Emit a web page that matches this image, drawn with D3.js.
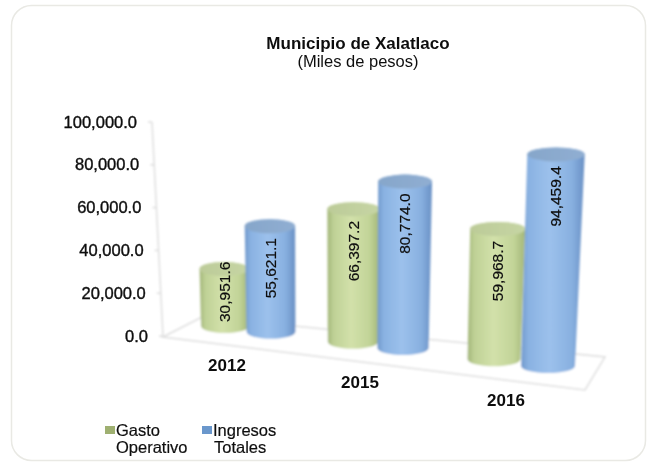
<!DOCTYPE html>
<html>
<head>
<meta charset="utf-8">
<script src="https://cdn.jsdelivr.net/npm/d3@7"></script>
<style>
  html, body { margin: 0; padding: 0; background: #fff; }
  text { font-family: "Liberation Sans", Arial, sans-serif; fill: #111; }
</style>
</head>
<body>
<script>
// Datos
const categories = ["2012", "2015", "2016"];
const gastoOperativo = [30951.6, 66397.2, 59968.7];
const ingresosTotales = [55621.1, 80774.0, 94459.4];
const yTicks = [0, 20000, 40000, 60000, 80000, 100000];
const titleLines = ["Municipio de Xalatlaco", "(Miles de pesos)"];
const seriesNames = [["Gasto", "Operativo"], ["Ingresos", "Totales"]];

const width = 657, height = 462;
const fmt = d3.format(",.1f");

const svg = d3.select("body").append("svg")
    .attr("width", width)
    .attr("height", height)
    .style("display", "block");

const defs = svg.append("defs");

// Suavizado, la imagen original es una captura borrosa
defs.append("filter").attr("id", "soft")
  .append("feGaussianBlur").attr("stdDeviation", 0.9);
defs.append("filter").attr("id", "softText")
  .append("feGaussianBlur").attr("stdDeviation", 0.35);

function addGradient(id, stops) {
  const g = defs.append("linearGradient").attr("id", id);
  stops.forEach(s => g.append("stop").attr("offset", s[0]).attr("stop-color", s[1]));
}
addGradient("bodyGreen", [[0, "#a3b67a"], [0.12, "#bfd196"], [0.45, "#d2e1aa"], [0.8, "#c2d498"], [1, "#a3b678"]]);
addGradient("bodyBlue", [[0, "#7199cc"], [0.12, "#8ab2e2"], [0.45, "#9cc1ec"], [0.8, "#88b0e0"], [1, "#6990c4"]]);
addGradient("topGreen", [[0, "#bccb98"], [1, "#c6d5a4"]]);
addGradient("topBlue", [[0, "#86a6ca"], [1, "#90aed2"]]);

const seriesStyle = [
  { body: "url(#bodyGreen)", top: "url(#topGreen)", swatch: "#9fb071" },
  { body: "url(#bodyBlue)", top: "url(#topBlue)", swatch: "#6b97cc" }
];

// Marco redondeado
svg.append("rect")
    .attr("x", 11.5).attr("y", 5.5)
    .attr("width", 634).attr("height", 455)
    .attr("rx", 20)
    .attr("fill", "#fff")
    .attr("stroke", "#e9e9e4")
    .attr("stroke-width", 1.5);

// Escalas
const y = d3.scaleLinear().domain([0, 100000]).range([336, 122]);
const axisX = d3.scaleLinear().domain([336, 122]).range([163, 152]);
const centerX = d3.scaleOrdinal(categories, [248, 378, 521]);
const labelX = d3.scaleOrdinal(categories, [227, 360, 506]);
const floorY = d3.scaleLinear().domain([225, 548]).range([326, 366]);
const radius = d3.scaleLinear().domain([225, 548]).range([24, 27]);
const pxPerValue = d3.scaleLinear().domain([225, 548]).range([0.00184, 0.00224]);

// Piso y eje vertical
const chart = svg.append("g").attr("filter", "url(#soft)");
const floor = [[163, 337], [202, 317], [605, 357], [585, 390]];
chart.append("path")
    .attr("d", d3.line()(floor) + "Z")
    .attr("fill", "#fff")
    .attr("stroke", "#dedede")
    .attr("stroke-width", 1.5);
chart.append("line")
    .attr("x1", axisX(y(0))).attr("y1", y(0))
    .attr("x2", axisX(y(100000))).attr("y2", y(100000))
    .attr("stroke", "#dedede")
    .attr("stroke-width", 1.5);
chart.selectAll(".tick").data(yTicks).join("line")
    .attr("class", "tick")
    .attr("x1", d => axisX(y(d)) - 4).attr("y1", d => y(d))
    .attr("x2", d => axisX(y(d))).attr("y2", d => y(d))
    .attr("stroke", "#dedede")
    .attr("stroke-width", 1.5);

// Cilindros
const bars = [];
categories.forEach((c, i) => {
  [gastoOperativo[i], ingresosTotales[i]].forEach((v, s) => {
    const cx = centerX(c) + (s === 0 ? -1 : 1) * (23 + i * 2);
    const h = pxPerValue(cx) * v;
    const lean = (cx - 330) * h * 0.000173;
    bars.push({
      value: v, series: s, cx: cx, base: floorY(cx), h: h, lean: lean,
      r: radius(cx), rTop: radius(cx) * (1 + h * 0.0003), ry: 7
    });
  });
});

bars.forEach(d => {
  const topY = d.base - d.h;
  const topX = d.cx + d.lean;
  chart.append("path")
      .attr("d", `M${topX - d.rTop},${topY}
        L${d.cx - d.r},${d.base}
        A${d.r},${d.ry} 0 0 0 ${d.cx + d.r},${d.base}
        L${topX + d.rTop},${topY}
        A${d.rTop},${d.ry} 0 0 0 ${topX - d.rTop},${topY}Z`)
      .attr("fill", seriesStyle[d.series].body);
  chart.append("ellipse")
      .attr("cx", topX).attr("cy", topY)
      .attr("rx", d.rTop).attr("ry", d.ry)
      .attr("fill", seriesStyle[d.series].top);
});

// Textos
const labels = svg.append("g").attr("filter", "url(#softText)");

labels.selectAll(".bar-label").data(bars).join("text")
    .attr("class", "bar-label")
    .attr("transform", d => {
      const total = d.h + 2 * d.ry;
      const mid = d.base - d.h - d.ry + Math.min(49, total * 0.42);
      return `translate(${d.cx + d.lean * 0.9 + 5.5},${mid}) rotate(-90)`;
    })
    .attr("text-anchor", "middle")
    .attr("stroke", "#111").attr("stroke-width", 0.2)
    .style("font-size", "15.5px")
    .text(d => fmt(d.value));

labels.selectAll(".y-label").data(yTicks).join("text")
    .attr("class", "y-label")
    .attr("x", d => axisX(y(d)) - 15)
    .attr("y", d => y(d) + 5.5)
    .attr("text-anchor", "end")
    .attr("stroke", "#111").attr("stroke-width", 0.4)
    .style("font-size", "16.5px")
    .text(d => fmt(d));

labels.selectAll(".x-label").data(categories).join("text")
    .attr("class", "x-label")
    .attr("x", d => labelX(d))
    .attr("y", d => floorY(labelX(d)) + 45)
    .attr("text-anchor", "middle")
    .style("font-size", "17px")
    .style("font-weight", "bold")
    .text(d => d);

labels.append("text")
    .attr("x", 358).attr("y", 49)
    .attr("text-anchor", "middle")
    .style("font-size", "17px")
    .style("font-weight", "bold")
    .text(titleLines[0]);
labels.append("text")
    .attr("x", 358).attr("y", 67)
    .attr("text-anchor", "middle")
    .style("font-size", "16.5px")
    .text(titleLines[1]);

// Leyenda
const legendX = d3.scaleOrdinal([0, 1], [105, 202]);
const legend = labels.selectAll(".legend").data(seriesNames).join("g")
    .attr("class", "legend")
    .attr("transform", (d, i) => `translate(${legendX(i)},0)`);
legend.append("rect")
    .attr("y", 426).attr("width", 10).attr("height", 8)
    .attr("fill", (d, i) => seriesStyle[i].swatch);
legend.append("text")
    .attr("x", 11).attr("y", 436)
    .attr("stroke", "#111").attr("stroke-width", 0.2)
    .style("font-size", "16.5px")
    .text(d => d[0]);
legend.append("text")
    .attr("x", (d, i) => i === 0 ? 11 : 12).attr("y", 453)
    .attr("stroke", "#111").attr("stroke-width", 0.2)
    .style("font-size", "16.5px")
    .text(d => d[1]);
</script>
</body>
</html>
